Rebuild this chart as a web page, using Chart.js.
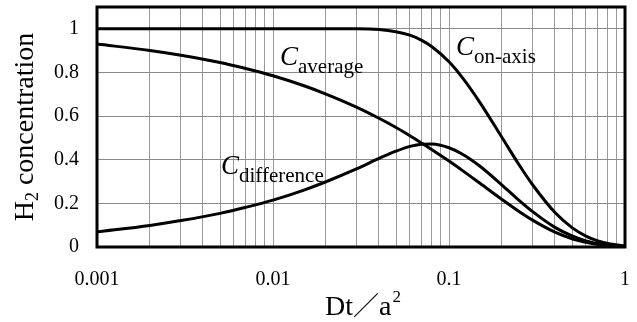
<!DOCTYPE html>
<html>
<head>
<meta charset="utf-8">
<script src="https://cdn.jsdelivr.net/npm/chart.js@4.4.0/dist/chart.umd.min.js"></script>
<style>
  html, body { margin: 0; padding: 0; background: #fff; }
</style>
</head>
<body>
<canvas id="myChart" width="637" height="322"></canvas>
<script>
// values (Dt/a^2 on a log axis)
const dtA2 = [0.001, 0.002, 0.003, 0.005, 0.007, 0.01, 0.015, 0.02, 0.03, 0.04, 0.05, 0.06, 0.07, 0.08,
              0.1, 0.12, 0.15, 0.2, 0.25, 0.3, 0.4, 0.5, 0.6, 0.7, 0.8, 1];
const cOnAxis = [1, 1, 1, 1, 1, 1, 1, 1, 1, 0.997, 0.987, 0.971, 0.947, 0.918,
                 0.849, 0.773, 0.662, 0.502, 0.377, 0.283, 0.158, 0.089, 0.050, 0.028, 0.016, 0.005];
const cAverage = [0.930, 0.901, 0.879, 0.846, 0.818, 0.785, 0.739, 0.701, 0.640, 0.590, 0.548, 0.510, 0.476, 0.446,
                  0.394, 0.349, 0.292, 0.218, 0.163, 0.122, 0.068, 0.038, 0.022, 0.012, 0.007, 0.002];
const cDifference = [0.070, 0.099, 0.121, 0.154, 0.182, 0.215, 0.261, 0.299, 0.359, 0.406, 0.439, 0.461, 0.471, 0.472,
                     0.455, 0.424, 0.370, 0.284, 0.214, 0.161, 0.090, 0.051, 0.028, 0.016, 0.009, 0.003];

const xTicks = [0.001, 0.01, 0.1, 1];
const xTickLabels = ['0.001', '0.01', '0.1', '1'];
const yTicks = [0, 0.2, 0.4, 0.6, 0.8, 1];
const yTickLabels = ['0', '0.2', '0.4', '0.6', '0.8', '1'];

// log grid: 1..9 in every decade
const xGrid = [];
xTicks.slice(0, -1).forEach(d => { for (let k = 1; k < 10; k++) xGrid.push(d * k); });
xGrid.push(1);

const serif = '"Liberation Serif", "Times New Roman", serif';

function toPoints(ys) {
  return dtA2.map((x, i) => ({ x: x, y: ys[i] }));
}

const overlay = {
  id: 'overlay',
  afterDraw(chart) {
    const ctx = chart.ctx;
    const a = chart.chartArea;
    ctx.save();
    // frame
    ctx.strokeStyle = '#000';
    ctx.lineWidth = 3;
    ctx.strokeRect(a.left, a.top, a.right - a.left, a.bottom - a.top);

    ctx.fillStyle = '#000';
    ctx.textAlign = 'left';
    ctx.textBaseline = 'alphabetic';

    function curveLabel(sub, px, py) {
      ctx.font = 'italic 27px ' + serif;
      ctx.fillText('C', px, py);
      const w = ctx.measureText('C').width;
      ctx.font = '21px ' + serif;
      ctx.fillText(sub, px + w, py + 8);
    }
    curveLabel('average', 280, 65);
    curveLabel('on-axis', 456, 55);
    curveLabel('difference', 221, 174);

    // x title: Dt／a²
    ctx.font = '28px ' + serif;
    let x0 = 325;
    ctx.fillText('Dt', x0, 315);
    x0 += ctx.measureText('Dt').width;
    ctx.font = '26px "Noto Sans CJK JP", sans-serif';
    ctx.fillText('／', x0, 315);
    x0 += ctx.measureText('／').width;
    ctx.font = '28px ' + serif;
    ctx.fillText('a', x0, 315);
    x0 += ctx.measureText('a').width;
    ctx.font = '17px ' + serif;
    ctx.fillText('2', x0 + 1, 302);

    // y title: H₂ concentration
    ctx.translate(33, 127);
    ctx.rotate(-Math.PI / 2);
    ctx.font = '28px ' + serif;
    const wH = ctx.measureText('H').width;
    ctx.font = '18px ' + serif;
    const w2 = ctx.measureText('2').width;
    ctx.font = '28px ' + serif;
    const wRest = ctx.measureText(' concentration').width;
    let t = -(wH + w2 + wRest) / 2;
    ctx.fillText('H', t, 0);
    t += wH;
    ctx.font = '18px ' + serif;
    ctx.fillText('2', t, 5);
    t += w2;
    ctx.font = '28px ' + serif;
    ctx.fillText(' concentration', t, 0);
    ctx.restore();
  }
};

const lineStyle = {
  borderColor: '#000',
  borderWidth: 3,
  pointRadius: 0,
  fill: false,
  cubicInterpolationMode: 'monotone'
};

const ctx = document.getElementById('myChart').getContext('2d');
const myChart = new Chart(ctx, {
  type: 'line',
  data: {
    datasets: [
      Object.assign({ label: 'C on-axis', data: toPoints(cOnAxis) }, lineStyle),
      Object.assign({ label: 'C average', data: toPoints(cAverage) }, lineStyle),
      Object.assign({ label: 'C difference', data: toPoints(cDifference) }, lineStyle)
    ]
  },
  options: {
    responsive: false,
    animation: false,
    layout: { padding: { left: 0, right: 12, top: 7, bottom: 0 } },
    plugins: {
      legend: { display: false },
      tooltip: { enabled: false }
    },
    scales: {
      x: {
        type: 'logarithmic',
        min: 0.001,
        max: 1,
        afterBuildTicks: scale => { scale.ticks = xGrid.map(v => ({ value: v })); },
        afterFit: scale => {
          scale.height = 75;
          scale.paddingLeft = 0;
          scale.paddingRight = 0;
        },
        grid: { color: '#9a9a9a', lineWidth: 1, drawTicks: false },
        border: { display: false },
        ticks: {
          autoSkip: false,
          maxRotation: 0,
          padding: 21,
          color: '#000',
          font: { family: serif, size: 20 },
          callback: function (v) {
            const i = xTicks.findIndex(t => Math.abs(t - v) < 1e-9);
            return i >= 0 ? xTickLabels[i] : '';
          }
        }
      },
      y: {
        type: 'linear',
        min: 0,
        max: 1.1,
        afterBuildTicks: scale => { scale.ticks = yTicks.map(v => ({ value: v })); },
        afterFit: scale => {
          scale.width = 97;
          scale.paddingTop = 0;
          scale.paddingBottom = 0;
        },
        grid: { color: '#8a8a8a', lineWidth: 1, drawTicks: false },
        border: { display: false },
        ticks: {
          padding: 18,
          color: '#000',
          font: { family: serif, size: 20 },
          callback: function (v) {
            const i = yTicks.findIndex(t => Math.abs(t - v) < 1e-9);
            return i >= 0 ? yTickLabels[i] : '';
          }
        }
      }
    }
  },
  plugins: [overlay]
});
</script>
</body>
</html>
